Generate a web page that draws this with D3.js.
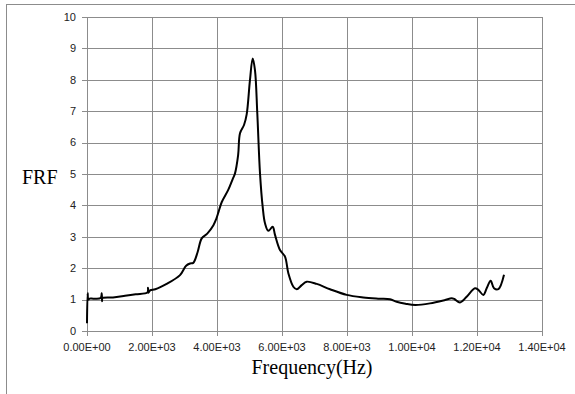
<!DOCTYPE html>
<html>
<head>
<meta charset="utf-8">
<script src="https://cdn.jsdelivr.net/npm/d3@7"></script>
<style>
  html, body { margin: 0; padding: 0; background: #fff; }
  svg { display: block; }
  .tick-label { font-family: "Liberation Sans", Arial, sans-serif; font-size: 11px; fill: #222; }
  .axis-title { font-family: "Liberation Serif", "Times New Roman", serif; font-size: 20px; fill: #000; }
</style>
</head>
<body>
<div id="chart"></div>
<script>
// Data
const freqs = [0, 20, 40, 80, 200, 420, 455, 462, 472, 500, 800, 1170, 1500, 1860, 1878, 1890, 1950,
  2100, 2450, 2862, 3050, 3170, 3270, 3400, 3530, 3700, 3890, 3970, 4050, 4144, 4349, 4483, 4554,
  4650, 4708, 4831, 4913, 5015, 5098, 5169, 5240, 5323, 5405, 5477, 5580, 5713, 5785, 5938, 6092,
  6195, 6349, 6452, 6606, 6760, 7068, 7477, 7990, 8502, 9000, 9323, 9528, 9800, 10100, 10554,
  11000, 11220, 11300, 11477, 11682, 11938, 12041, 12195, 12298, 12421, 12523, 12657, 12831];
const frf = [0.25, 1.2, 1.0, 1.03, 1.03, 1.05, 1.2, 0.95, 1.05, 1.06, 1.07, 1.12, 1.17, 1.23, 1.38, 1.22, 1.3,
  1.33, 1.5, 1.78, 2.08, 2.15, 2.17, 2.5, 2.95, 3.1, 3.37, 3.55, 3.8, 4.1, 4.5, 4.84, 5.02,
  5.6, 6.3, 6.56, 6.9, 8.0, 8.68, 8.3, 6.93, 5.02, 3.96, 3.43, 3.19, 3.32, 3.06, 2.58, 2.37,
  1.84, 1.41, 1.33, 1.46, 1.57, 1.5, 1.33, 1.15, 1.07, 1.03, 1.01, 0.93, 0.87, 0.83, 0.88,
  0.98, 1.04, 1.02, 0.91, 1.09, 1.36, 1.31, 1.15, 1.36, 1.6, 1.36, 1.33, 1.79];

const xTicks = [0, 2000, 4000, 6000, 8000, 10000, 12000, 14000];
const yTicks = [0, 1, 2, 3, 4, 5, 6, 7, 8, 9, 10];

const xTitle = "Frequency(Hz)";
const yTitle = "FRF";

// Dimensions
const totalW = 575, totalH = 394;
const margin = { top: 17, right: 33, bottom: 63, left: 87 };
const width = totalW - margin.left - margin.right;
const height = totalH - margin.top - margin.bottom;
const GRID = "#8c8c8c";

const svg = d3.select("#chart").append("svg")
  .attr("width", totalW)
  .attr("height", totalH);

// chart frame (runs off the right and bottom edges)
svg.append("rect")
  .attr("x", 6.5).attr("y", 4.5)
  .attr("width", 620).attr("height", 420)
  .attr("fill", "none").attr("stroke", GRID);

const g = svg.append("g")
  .attr("transform", `translate(${margin.left},${margin.top})`);

const x = d3.scaleLinear().domain([0, 14000]).range([0, width]);
const y = d3.scaleLinear().domain([0, 10]).range([height, 0]);

// gridlines
g.append("g").selectAll("line").data(yTicks).join("line")
  .attr("x1", 0).attr("x2", width)
  .attr("y1", d => Math.round(y(d)) + 0.5).attr("y2", d => Math.round(y(d)) + 0.5)
  .attr("stroke", GRID);
g.append("g").selectAll("line").data(xTicks).join("line")
  .attr("y1", 0).attr("y2", height)
  .attr("x1", d => Math.round(x(d)) + 0.5).attr("x2", d => Math.round(x(d)) + 0.5)
  .attr("stroke", GRID);

// tick marks
g.append("g").selectAll("line").data(yTicks).join("line")
  .attr("x1", -5).attr("x2", 0)
  .attr("y1", d => Math.round(y(d)) + 0.5).attr("y2", d => Math.round(y(d)) + 0.5)
  .attr("stroke", GRID);
g.append("g").selectAll("line").data(xTicks).join("line")
  .attr("y1", height).attr("y2", height + 5)
  .attr("x1", d => Math.round(x(d)) + 0.5).attr("x2", d => Math.round(x(d)) + 0.5)
  .attr("stroke", GRID);

// tick labels
g.append("g").selectAll("text").data(yTicks).join("text")
  .attr("class", "tick-label")
  .attr("x", -11).attr("y", d => y(d))
  .attr("dy", "0.35em")
  .attr("text-anchor", "end")
  .text(d => d);

g.append("g").selectAll("text").data(xTicks).join("text")
  .attr("class", "tick-label")
  .attr("x", d => x(d)).attr("y", height + 20)
  .attr("text-anchor", "middle")
  .text(d => d.toExponential(2).replace("e", "E").replace(/E([+-])(\d)$/, "E$10$2"));

// axis titles
svg.append("text")
  .attr("class", "axis-title")
  .attr("x", 22).attr("y", 184)
  .text(yTitle);

svg.append("text")
  .attr("class", "axis-title")
  .attr("x", 312).attr("y", 374)
  .attr("text-anchor", "middle")
  .text(xTitle);

// curve
const pts = freqs.map((f, i) => [f, frf[i]]);
const line = d3.line()
  .x(d => x(d[0]))
  .y(d => y(d[1]))
  .curve(d3.curveCatmullRom.alpha(0.5));

g.append("path")
  .datum(pts)
  .attr("fill", "none")
  .attr("stroke", "#000")
  .attr("stroke-width", 2)
  .attr("stroke-linejoin", "round")
  .attr("d", line);
</script>
</body>
</html>
